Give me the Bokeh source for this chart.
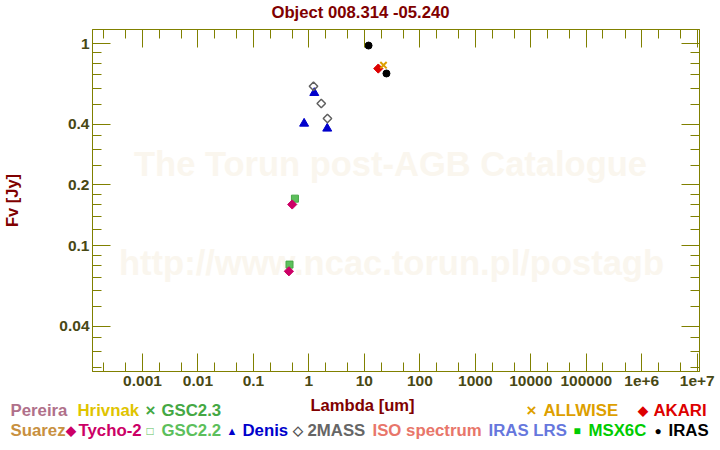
import numpy as np
from bokeh.plotting import figure
from bokeh.layouts import column, row
from bokeh.models import Range1d, LogAxis, FixedTicker, Label
from bokeh.embed import file_html
from bokeh.resources import INLINE

# ---------------- data ----------------
tycho_lam = [0.436, 0.50]
tycho_f = [0.0748, 0.160]
gsc22_lam = [0.447, 0.56]
gsc22_f = [0.0807, 0.171]
denis_lam = [0.82, 1.25, 2.14]
denis_f = [0.402, 0.570, 0.380]
mass_lam = [1.21, 1.67, 2.16]
mass_f = [0.615, 0.505, 0.426]
iras_lam = [11.9, 25.0]
iras_f = [0.977, 0.711]
akari_lam = [17.8]
akari_f = [0.752]
allwise_lam = [22.1]
allwise_f = [0.781]

x_ticks = [0.001, 0.01, 0.1, 1, 10, 100, 1000, 10000, 100000, 1e6, 1e7]
x_tick_labels = ["0.001", "0.01", "0.1", "1", "10", "100", "1000", "10000",
                 "100000", "1e+6", "1e+7"]
y_ticks = [0.04, 0.1, 0.2, 0.4, 1]
y_tick_labels = ["0.04", "0.1", "0.2", "0.4", "1"]
y_minor = [0.025, 0.03, 0.035, 0.05, 0.06, 0.07, 0.08, 0.09,
           0.12, 0.14, 0.16, 0.18, 0.25, 0.3, 0.35, 0.5, 0.6, 0.7, 0.8, 0.9]
x_minor = [m * 10.0 ** e for e in range(-4, 7) for m in (2, 5)]

title_text = "Object 008.314 -05.240"
x_label = "Lambda [um]"
y_label = "Fv [Jy]"

OLIVE = "#808000"
TICKTXT = "#484814"
MAROON = "#800000"
FONT = "Liberation Sans"
WM = "#faf6ee"
LEG = "16.8px"

W = 720
HEAD_H = 24          # canvas rows 0..24
MAIN_H = 371         # canvas rows 24..395
FOOT_H = 450 - HEAD_H - MAIN_H
L, R = 92, 699       # frame left/right in canvas px
FT, FB = 5, 24       # main figure: border above / below frame


def no_align(f):
    try:
        f.frame_align = False
    except Exception:
        pass


def blank(h):
    f = figure(width=W, height=h, output_backend="svg", toolbar_location=None,
               x_axis_location=None, y_axis_location=None,
               x_range=Range1d(0, W), y_range=Range1d(0, h),
               min_border=0, min_border_left=0, min_border_right=0,
               min_border_top=0, min_border_bottom=0)
    f.grid.visible = False
    f.outline_line_color = None
    f.background_fill_color = "white"
    f.border_fill_color = "white"
    no_align(f)
    return f


def lab(fig, cx, cy, text, color, size=LEG, align="left", top=0):
    fig.add_layout(Label(x=cx, y=fig.height - (cy - top), x_units="screen",
                         y_units="screen", text=text, text_color=color,
                         text_font=FONT, text_font_style="bold", text_font_size=size,
                         text_align=align, text_baseline="middle"))


# ---------------- header ----------------
head = blank(HEAD_H)
lab(head, 360, 12, title_text, MAROON, size="16.7px", align="center")

# ---------------- main figure ----------------
p = figure(width=W, height=MAIN_H, x_axis_type="log", y_axis_type="log",
           x_range=Range1d(10 ** -3.901, 10 ** 7.041),
           y_range=Range1d(0.0239, 1.173),
           output_backend="svg", toolbar_location=None,
           min_border_left=L, min_border_right=W - R,
           min_border_top=FT, min_border_bottom=FB)
no_align(p)
p.grid.visible = False
p.outline_line_color = OLIVE
p.background_fill_color = "white"
p.border_fill_color = "white"

xt = FixedTicker(ticks=x_ticks, minor_ticks=x_minor)
yt = FixedTicker(ticks=y_ticks, minor_ticks=y_minor)
p.add_layout(LogAxis(), "above")
p.add_layout(LogAxis(), "right")
for ax in p.xaxis:
    ax.ticker = xt
for ax in p.yaxis:
    ax.ticker = yt
for ax in list(p.xaxis) + list(p.yaxis):
    ax.axis_line_color = OLIVE
    ax.major_tick_line_color = OLIVE
    ax.minor_tick_line_color = OLIVE
    ax.major_tick_in = 18
    ax.major_tick_out = 0
    ax.minor_tick_in = 9
    ax.minor_tick_out = 0
    ax.major_label_text_font = FONT
    ax.major_label_text_font_style = "bold"
    ax.major_label_text_color = TICKTXT
    ax.major_label_text_font_size = "15.5px"

bx = p.below[0]
bx.major_label_overrides = {v: s for v, s in zip(x_ticks, x_tick_labels)}
bx.major_label_standoff = 4
ly = p.left[0]
ly.major_label_overrides = {v: s for v, s in zip(y_ticks, y_tick_labels)}
ly.major_label_standoff = 3
ly.axis_label = y_label
ly.axis_label_text_font = FONT
ly.axis_label_text_font_style = "bold"
ly.axis_label_text_font_size = "16.5px"
ly.axis_label_text_color = MAROON
ly.axis_label_standoff = 35
for ax in (p.above[0], p.right[0]):
    ax.major_label_text_font_size = "0px"
    ax.major_label_text_alpha = 0
    ax.major_label_standoff = 0


def mlab(cx, cy, text, color, size="34.5px"):
    p.add_layout(Label(x=cx - L, y=(HEAD_H + MAIN_H - FB) - cy, x_units="screen",
                       y_units="screen", text=text, text_color=color, text_font=FONT,
                       text_font_style="bold", text_font_size=size,
                       text_align="center", text_baseline="middle", level="underlay"))


mlab(390, 163, "The Torun post-AGB Catalogue", WM)
mlab(391, 262, "http://www.ncac.torun.pl/postagb", WM)

p.scatter(gsc22_lam, gsc22_f, marker="square", size=7,
          fill_color="#5cbf5c", line_color="#45a845")
p.scatter(tycho_lam, tycho_f, marker="square", angle=np.pi / 4, size=6.5,
          fill_color="#cc0066", line_color="#cc0066")
p.scatter(denis_lam, denis_f, marker="triangle", size=9,
          fill_color="#0000cc", line_color="#0000cc")
p.scatter(mass_lam, mass_f, marker="square", angle=np.pi / 4, size=6,
          fill_color=None, line_color="#606060", line_width=1.5)
p.scatter(akari_lam, akari_f, marker="square", angle=np.pi / 4, size=6.5,
          fill_color="#dd0000", line_color="#dd0000")
p.scatter(allwise_lam, allwise_f, marker="x", size=9,
          line_color="#dd9f00", line_width=2)
p.scatter(iras_lam, iras_f, marker="circle", size=7,
          fill_color="black", line_color="black")

# ---------------- footer (x label + legend) ----------------
foot = blank(FOOT_H)
T0 = HEAD_H + MAIN_H


def flab(cx, cy, text, color, size=LEG, align="left"):
    lab(foot, cx, cy, text, color, size=size, align=align, top=T0)


flab(362, 405, x_label, MAROON, size="16.6px", align="center")
r1, r2 = 410, 430
flab(10, r1, "Pereira", "#b0708a")
flab(77, r1, "Hrivnak", "#e0c400")
flab(145, r1, "\u00d7", "#44a844", size="17px")
flab(161, r1, "GSC2.3", "#44a844")
flab(526, r1, "\u00d7", "#dd9f00", size="17px")
flab(543, r1, "ALLWISE", "#dd9f00")
flab(637, r1, "\u25c6", "#dd0000", size="13px")
flab(653, r1, "AKARI", "#dd0000")
flab(10, r2, "Suarez", "#c89040")
flab(65, r2, "\u25c6", "#cc0066", size="13px")
flab(78, r2, "Tycho-2", "#cc0066")
flab(146, r2, "\u25a1", "#5cbf5c", size="12px")
flab(161, r2, "GSC2.2", "#5cbf5c")
flab(226, r2, "\u25b2", "#0000cc", size="11px")
flab(242, r2, "Denis", "#0000cc")
flab(292, r2, "\u25c7", "#555555", size="13px")
flab(307, r2, "2MASS", "#666666")
flab(372, r2, "ISO spectrum", "#e8766a")
flab(488, r2, "IRAS LRS", "#6677dd")
flab(573, r2, "\u25a0", "#00cc00", size="12px")
flab(588, r2, "MSX6C", "#00cc00")
flab(654, r2, "\u25cf", "black", size="12px")
flab(668, r2, "IRAS", "black")

layout = column(row(head), row(p), row(foot), spacing=0)
open("out.html", "w").write(file_html(layout, INLINE))
